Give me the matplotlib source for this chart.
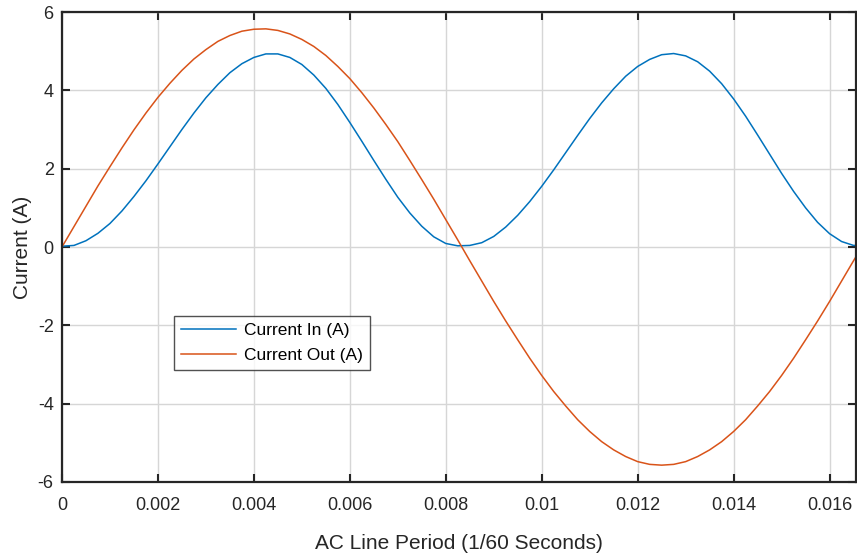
import matplotlib
matplotlib.use("Agg")
import matplotlib.pyplot as plt

# sample times in ms, one full 60 Hz line period
t_ms = [0.0, 0.25, 0.5, 0.75, 1.0, 1.25, 1.5, 1.75, 2.0, 2.25, 2.5, 2.75,
        3.0, 3.25, 3.5, 3.75, 4.0, 4.25, 4.5, 4.75, 5.0, 5.25, 5.5, 5.75,
        6.0, 6.25, 6.5, 6.75, 7.0, 7.25, 7.5, 7.75, 8.0, 8.25, 8.5, 8.75,
        9.0, 9.25, 9.5, 9.75, 10.0, 10.25, 10.5, 10.75, 11.0, 11.25, 11.5,
        11.75, 12.0, 12.25, 12.5, 12.75, 13.0, 13.25, 13.5, 13.75, 14.0,
        14.25, 14.5, 14.75, 15.0, 15.25, 15.5, 15.75, 16.0, 16.25, 16.5, 16.55]

current_in = [0.02, 0.04, 0.16, 0.35, 0.60, 0.92, 1.29, 1.69, 2.12, 2.56, 3.00,
              3.42, 3.81, 4.15, 4.45, 4.68, 4.84, 4.93, 4.93, 4.84, 4.66, 4.39,
              4.05, 3.64, 3.18, 2.70, 2.21, 1.73, 1.27, 0.87, 0.53, 0.26, 0.09,
              0.03, 0.04, 0.11, 0.27, 0.51, 0.81, 1.16, 1.55, 1.97, 2.41, 2.85,
              3.28, 3.68, 4.04, 4.36, 4.61, 4.79, 4.91, 4.94, 4.88, 4.73, 4.49,
              4.17, 3.78, 3.34, 2.86, 2.37, 1.88, 1.42, 1.00, 0.63, 0.34, 0.14,
              0.04, 0.04]

current_out = [0.00, 0.52, 1.04, 1.56, 2.05, 2.53, 2.99, 3.42, 3.82, 4.18, 4.51,
               4.80, 5.04, 5.25, 5.40, 5.51, 5.56, 5.57, 5.53, 5.44, 5.30, 5.12,
               4.89, 4.61, 4.30, 3.94, 3.55, 3.13, 2.69, 2.21, 1.72, 1.22, 0.70,
               0.18, -0.35, -0.87, -1.39, -1.89, -2.37, -2.84, -3.28, -3.69,
               -4.06, -4.41, -4.71, -4.97, -5.18, -5.35, -5.48, -5.55, -5.57,
               -5.55, -5.48, -5.35, -5.18, -4.97, -4.71, -4.41, -4.06, -3.69,
               -3.28, -2.84, -2.37, -1.89, -1.39, -0.87, -0.35, -0.25]

t = [v / 1000.0 for v in t_ms]

x_ticks = [0, 0.002, 0.004, 0.006, 0.008, 0.01, 0.012, 0.014, 0.016]
y_ticks = [-6, -4, -2, 0, 2, 4, 6]

plt.rcParams['font.family'] = ['Liberation Sans', 'DejaVu Sans']
ink = '#262626'

fig = plt.figure(figsize=(8.57, 5.56), dpi=100)
ax = fig.add_axes([0.0723, 0.1331, 0.9265, 0.8453])

ax.plot(t, current_in, color='#0072BD', lw=1.1, label='Current In (A)')
ax.plot(t, current_out, color='#D95319', lw=1.1, label='Current Out (A)')

ax.set_xlim(0, 0.01655)
ax.set_ylim(-6, 6)
ax.set_xticks(x_ticks)
ax.set_xticklabels(['%g' % v for v in x_ticks])
ax.set_yticks(y_ticks)
ax.set_yticklabels(['%g' % v for v in y_ticks])

ax.grid(True, color='#d6d6d6', lw=1.0)
ax.set_axisbelow(True)
for s in ax.spines.values():
    s.set_color(ink)
    s.set_linewidth(1.6)
ax.tick_params(axis='both', direction='in', length=6, width=1.5,
               colors=ink, labelsize=13, top=True, right=True)
ax.tick_params(axis='x', pad=11)
ax.tick_params(axis='y', pad=6)

ax.set_xlabel('AC Line Period (1/60 Seconds)', fontsize=15, color=ink, labelpad=14)
ax.set_ylabel('Current (A)', fontsize=15, color=ink, labelpad=4)

leg = ax.legend(loc='upper left', bbox_to_anchor=(0.141, 0.353), fontsize=12.5,
                frameon=True, fancybox=False, handlelength=3.2,
                handletextpad=0.45, labelspacing=0.54, borderpad=0.4,
                borderaxespad=0)
leg.get_frame().set_edgecolor(ink)
leg.get_frame().set_linewidth(1.0)
for txt in leg.get_texts():
    txt.set_color('black')

fig.savefig('out.png', dpi=100)
